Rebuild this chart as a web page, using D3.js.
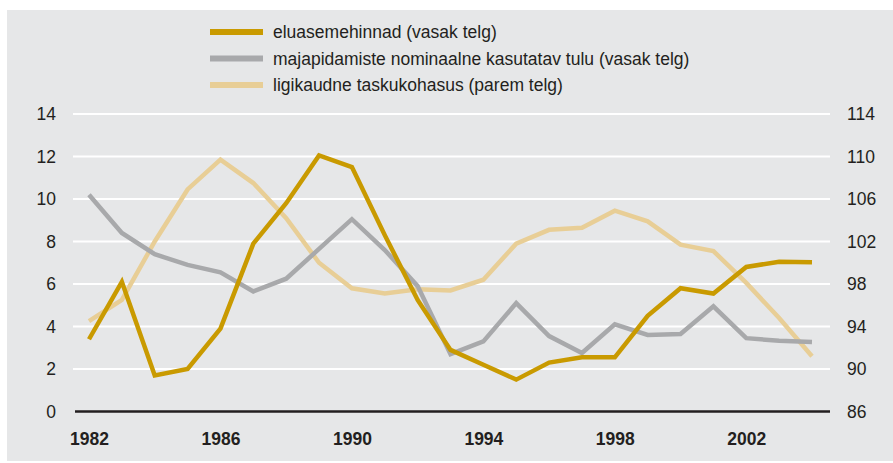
<!doctype HTML>
<meta charset="utf-8">
<style>
    body { margin: 0; background: #ffffff; }
    text { font-family: "Liberation Sans", Arial, sans-serif; fill: #231f20; }
</style>
<html>
<head>
    <script src="https://d3js.org/d3.v7.min.js"></script>
</head>
<body>
<div id="chart"></div>
<script>

    // years on the x axis
    var years = d3.range(1982, 2005);
    var yearTicks = [1982, 1986, 1990, 1994, 1998, 2002];

    // series values
    var housePrices = [3.4, 6.1, 1.7, 2.0, 3.9, 7.9, 9.8, 12.05, 11.5, 8.3, 5.25, 2.9,
        2.2, 1.5, 2.3, 2.55, 2.55, 4.5, 5.8, 5.55, 6.8, 7.05, 7.02];
    var income = [10.2, 8.4, 7.4, 6.9, 6.55, 5.65, 6.25, 7.65, 9.05, 7.6, 5.9, 2.7,
        3.3, 5.1, 3.55, 2.75, 4.1, 3.6, 3.65, 4.95, 3.45, 3.33, 3.27];
    var affordability = [94.5, 96.5, 102.0, 106.9, 109.7, 107.5, 104.2, 100.0, 97.6, 97.1, 97.5, 97.4,
        98.4, 101.8, 103.1, 103.3, 104.9, 103.9, 101.7, 101.1, 98.1, 94.8, 91.2];

    var leftTicks = [0, 2, 4, 6, 8, 10, 12, 14];
    var rightTicks = [86, 90, 94, 98, 102, 106, 110, 114];

    var legendLabels = ["eluasemehinnad (vasak telg)",
        "majapidamiste nominaalne kasutatav tulu (vasak telg)",
        "ligikaudne taskukohasus (parem telg)"];
    var colors = ["#c99a00", "#a8a9ab", "#e8ce96"];

    var width = 893, height = 463;
    var fontSize = 17.5;

    var svg = d3.select("#chart")
        .append("svg")
        .attr("width", width)
        .attr("height", height);

    // grey panel
    svg.append("rect")
        .attr("x", 7).attr("y", 10)
        .attr("width", width - 7).attr("height", 451)
        .attr("fill", "#e6e7e8");

    var xScale = d3.scalePoint().domain(years).range([89, 812]);
    var yLeft = d3.scaleLinear().domain([0, 14]).range([411.5, 114]);
    var yRight = d3.scaleLinear().domain([86, 114]).range([411.5, 114]);

    // gridlines
    svg.append("g")
        .selectAll("line")
        .data(leftTicks.slice(1))
        .enter().append("line")
        .attr("x1", 73).attr("x2", 830)
        .attr("y1", function(d) { return yLeft(d); })
        .attr("y2", function(d) { return yLeft(d); })
        .attr("stroke", "#ffffff")
        .attr("stroke-width", 2);

    // left axis labels
    svg.append("g")
        .attr("transform", "translate(56,0)")
        .call(d3.axisLeft(yLeft).tickValues(leftTicks).tickSize(0).tickPadding(0))
        .call(function(g) { g.select(".domain").remove(); })
        .selectAll("text")
        .attr("font-size", fontSize)
        .attr("font-family", "Liberation Sans, Arial, sans-serif")
        .style("fill", "#231f20");

    // right axis labels
    svg.append("g")
        .attr("transform", "translate(847,0)")
        .call(d3.axisRight(yRight).tickValues(rightTicks).tickSize(0).tickPadding(0))
        .call(function(g) { g.select(".domain").remove(); })
        .selectAll("text")
        .attr("font-size", fontSize)
        .attr("font-family", "Liberation Sans, Arial, sans-serif")
        .style("fill", "#231f20");

    // x axis (baseline + bold year labels)
    svg.append("line")
        .attr("x1", 75).attr("x2", 830)
        .attr("y1", yLeft(0)).attr("y2", yLeft(0))
        .attr("stroke", "#231f20")
        .attr("stroke-width", 2.5);

    svg.append("g")
        .attr("transform", "translate(0," + yLeft(0) + ")")
        .call(d3.axisBottom(xScale).tickValues(yearTicks).tickSize(0).tickPadding(21))
        .call(function(g) { g.select(".domain").remove(); })
        .selectAll("text")
        .attr("font-size", fontSize)
        .attr("font-weight", "bold")
        .attr("font-family", "Liberation Sans, Arial, sans-serif")
        .style("fill", "#231f20");

    // lines
    var lineLeft = d3.line()
        .x(function(d, i) { return xScale(years[i]); })
        .y(function(d) { return yLeft(d); });
    var lineRight = d3.line()
        .x(function(d, i) { return xScale(years[i]); })
        .y(function(d) { return yRight(d); });

    svg.append("path")
        .datum(affordability)
        .attr("d", lineRight)
        .attr("fill", "none")
        .attr("stroke", colors[2])
        .attr("stroke-width", 4.5);

    svg.append("path")
        .datum(income)
        .attr("d", lineLeft)
        .attr("fill", "none")
        .attr("stroke", colors[1])
        .attr("stroke-width", 4.5);

    svg.append("path")
        .datum(housePrices)
        .attr("d", lineLeft)
        .attr("fill", "none")
        .attr("stroke", colors[0])
        .attr("stroke-width", 4.5);

    // legend
    var legend = svg.append("g").attr("class", "legend");
    legendLabels.forEach(function(label, i) {
        var y = 32 + i * 26.5;
        legend.append("line")
            .attr("x1", 210).attr("x2", 263)
            .attr("y1", y).attr("y2", y)
            .attr("stroke", colors[i])
            .attr("stroke-width", 6);
        legend.append("text")
            .attr("x", 273).attr("y", y)
            .attr("dy", "0.35em")
            .attr("font-size", fontSize)
            .text(label);
    });

</script>
</body>
</html>
